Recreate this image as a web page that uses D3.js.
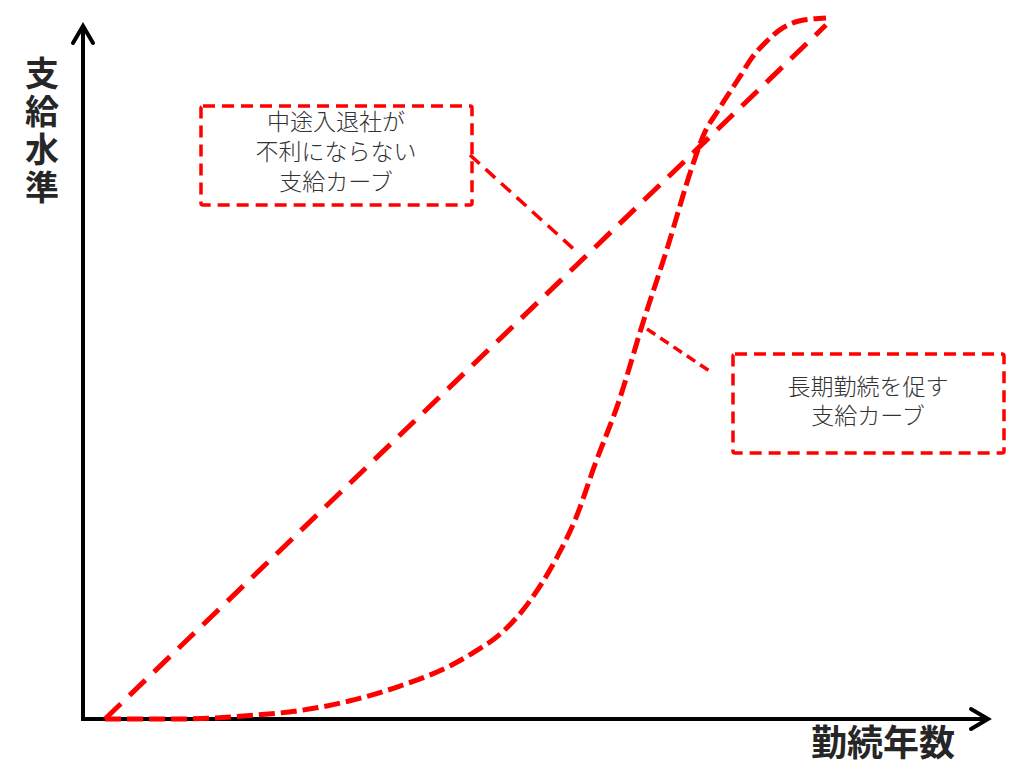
<!DOCTYPE html>
<html><head><meta charset="utf-8">
<script src="https://cdn.jsdelivr.net/npm/d3@7"></script>
<style>
html,body{margin:0;padding:0;background:#fff;}
svg{display:block;}
</style></head>
<body>
<svg id="chart" width="1015" height="781"></svg>
<script>
// --- data (abstract units: tenure 0-100, pay level 0-100) ---
const tenureCurve = [0,10.4,20.1,27.0,34.0,40.9,47.9,51.3,54.8,58.9,62.7,65.2,68.1,71.2,74.6,77.9,81.6,83.1,84.9,88.1,89.7,91.5,93.6,96.4,100];
const payCurve    = [0,0,0.5,1.2,2.6,4.7,7.6,9.6,12.1,16.8,23.1,28.4,36.7,45.1,56.5,66.9,79.3,83.5,86.6,91.7,94.3,96.4,98.3,99.6,100];
const tenureLine = [0,100];
const payLine    = [0,99];
const yAxisLabel = "支給水準";
const xAxisLabel = "勤続年数";
const box1Lines = ["中途入退社が","不利にならない","支給カーブ"];
const box2Lines = ["長期勤続を促す","支給カーブ"];

const svg = d3.select("#chart");
const x = d3.scaleLinear().domain([0,100]).range([105,826]);
const y = d3.scaleLinear().domain([0,100]).range([719,18]);
const RED = "#ff0000";

// axes
const ax0 = 83, ay0 = 719;
svg.append("line").attr("x1",ax0).attr("y1",ay0+2).attr("x2",ax0).attr("y2",26)
  .attr("stroke","#000").attr("stroke-width",4);
svg.append("path").attr("d",`M${ax0-10},43 L${ax0},26 L${ax0+10},43`)
  .attr("fill","none").attr("stroke","#000").attr("stroke-width",4).attr("stroke-linecap","round").attr("stroke-linejoin","miter");
svg.append("line").attr("x1",ax0-2).attr("y1",ay0).attr("x2",988).attr("y2",ay0)
  .attr("stroke","#000").attr("stroke-width",4);
svg.append("path").attr("d",`M971,709 L988,${ay0} L971,729`)
  .attr("fill","none").attr("stroke","#000").attr("stroke-width",4).attr("stroke-linecap","round");

// axis labels
svg.append("text").attr("x",42).attr("y",56)
  .attr("writing-mode","vertical-rl").attr("letter-spacing",4)
  .attr("font-family","'Noto Sans CJK JP'").attr("font-weight",700)
  .attr("font-size",34).attr("fill","#262626").text(yAxisLabel);
svg.append("text").attr("x",883).attr("y",756).attr("text-anchor","middle")
  .attr("font-family","'Noto Sans CJK JP'").attr("font-weight",700).attr("font-size",36)
  .attr("fill","#262626").text(xAxisLabel);

// straight line
const lineGen = d3.line().x(d=>x(d[0])).y(d=>y(d[1]));
svg.append("path").datum(d3.zip(tenureLine,payLine)).attr("d",lineGen)
  .attr("fill","none").attr("stroke",RED).attr("stroke-width",5).attr("stroke-dasharray","22,12");

// S-curve
const curveGen = d3.line().x(d=>x(d[0])).y(d=>y(d[1])).curve(d3.curveMonotoneX);
svg.append("path").datum(d3.zip(tenureCurve,payCurve)).attr("d",curveGen)
  .attr("fill","none").attr("stroke",RED).attr("stroke-width",5).attr("stroke-dasharray","16,6");

// callout boxes
function box(x0,y0,w,h,lines,cx,ty,lh){
  svg.append("rect").attr("x",x0).attr("y",y0).attr("width",w).attr("height",h).attr("rx",2)
    .attr("fill","none").attr("stroke",RED).attr("stroke-width",3.5).attr("stroke-dasharray","12,7");
  const t = svg.append("text").attr("font-family","'Noto Sans CJK JP'").attr("font-weight",300)
    .attr("font-size",23).attr("fill","#333").attr("text-anchor","middle");
  lines.forEach((l,i)=>t.append("tspan").attr("x",cx).attr("y",ty+i*lh).text(l));
}
box(201,106,271,99,box1Lines,336,130,30);
box(733,354,271,99,box2Lines,868,395,29);

// leader lines
svg.append("line").attr("x1",470).attr("y1",155).attr("x2",578).attr("y2",253)
  .attr("stroke",RED).attr("stroke-width",3.5).attr("stroke-dasharray","13,8");
svg.append("line").attr("x1",647).attr("y1",329).attr("x2",711).attr("y2",372)
  .attr("stroke",RED).attr("stroke-width",3.5).attr("stroke-dasharray","10,6");
</script>
</body></html>
